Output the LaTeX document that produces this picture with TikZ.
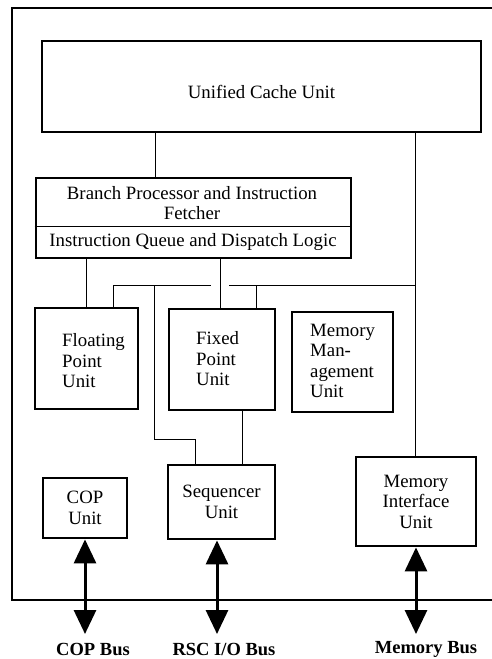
\documentclass[tikz,border=0pt]{standalone}
\usepackage{fontspec}
\setmainfont{Liberation Serif}
\usetikzlibrary{arrows.meta}
\begin{document}
\begin{tikzpicture}[x=1pt,y=-1pt,
  box/.style={draw,line width=2.8pt,rectangle,inner sep=0pt,align=center,
    font=\fontsize{18.8}{20.5}\selectfont},
  wire/.style={line width=0.8pt},
  frame/.style={line width=1.8pt},
  bus/.style={line width=3pt,{Triangle[width=22pt,length=24pt]}-{Triangle[width=22pt,length=24pt]}},
  buslabel/.style={font=\fontsize{18.5}{20}\selectfont\bfseries,inner sep=0pt,anchor=base},
  lbl/.style={font=\fontsize{18.8}{20.5}\selectfont,inner sep=0pt}]
\useasboundingbox (0,0) rectangle (492,659);
\draw[frame] (492,8) -- (12,8) -- (12,600) -- (492,600);
% boxes
\node[box,minimum width=439pt,minimum height=91pt] (cache) at (261.5,86.5) {};
\node[lbl] (cachet) at (261.5,92) {Unified Cache Unit};
\node[box,minimum width=315pt,minimum height=80pt] (bpf) at (193.5,218) {};
\node[lbl,align=center] (bpft) at (192,203) {Branch Processor and Instruction\\Fetcher};
\node[lbl] (iq) at (193,242) {Instruction Queue and Dispatch Logic};
\draw[wire] (bpf.west |- 0,226) -- (bpf.east |- 0,226);
\node[box,minimum width=103pt,minimum height=101pt] (fp) at (86.5,358.5) {};
\node[lbl,align=left,anchor=west] (fpt) at (62,361) {Floating\\Point\\Unit};
\node[box,minimum width=106pt,minimum height=101pt] (fx) at (222,359.5) {};
\node[lbl,align=left,anchor=west] (fxt) at (196,359) {Fixed\\Point\\Unit};
\node[box,minimum width=101pt,minimum height=100pt] (mm) at (342.5,362) {};
\node[lbl,align=left,anchor=west] (mmt) at (310,361) {Memory\\Man-\\agement\\Unit};
\node[box,minimum width=84pt,minimum height=60pt] (cop) at (85,508) {COP\\Unit};
\node[box,minimum width=107pt,minimum height=74pt] (seq) at (221.5,502) {Sequencer\\Unit};
\node[box,minimum width=120pt,minimum height=89pt] (miu) at (416,501.5) {Memory\\Interface\\Unit};
% wires
\draw[wire] (cache.south -| 155,0) -- (bpf.north -| 155,0);
\draw[wire] (cache.south -| 415,0) -- (miu.north -| 415,0);
\draw[wire] (bpf.south -| 86,0) -- (fp.north -| 86,0);
\draw[wire] (bpf.south -| 220,0) -- (fx.north -| 220,0);
\draw[wire] (fp.north -| 113,0) -- (113,285) -- (211,285);
\draw[wire] (229,285) -- (415,285);
\draw[wire] (fx.north -| 256,0) -- (256,285);
\draw[wire] (154,285) -- (154,439) -- (195,439) -- (seq.north -| 195,0);
\draw[wire] (fx.south -| 242,0) -- (seq.north -| 242,0);
% buses
\coordinate (copend) at (85,634);
\coordinate (seqend) at (217,634);
\coordinate (miuend) at (416,634);
\draw[bus] (cop.south -| copend) -- (copend);
\draw[bus] (seq.south -| seqend) -- (seqend);
\draw[bus] (miu.south -| miuend) -- (miuend);
\node[buslabel] (copl) at (93,655) {COP Bus};
\node[buslabel] (seql) at (224,655) {RSC I/O Bus};
\node[buslabel] (miul) at (426,653) {Memory Bus};
\end{tikzpicture}
\end{document}
